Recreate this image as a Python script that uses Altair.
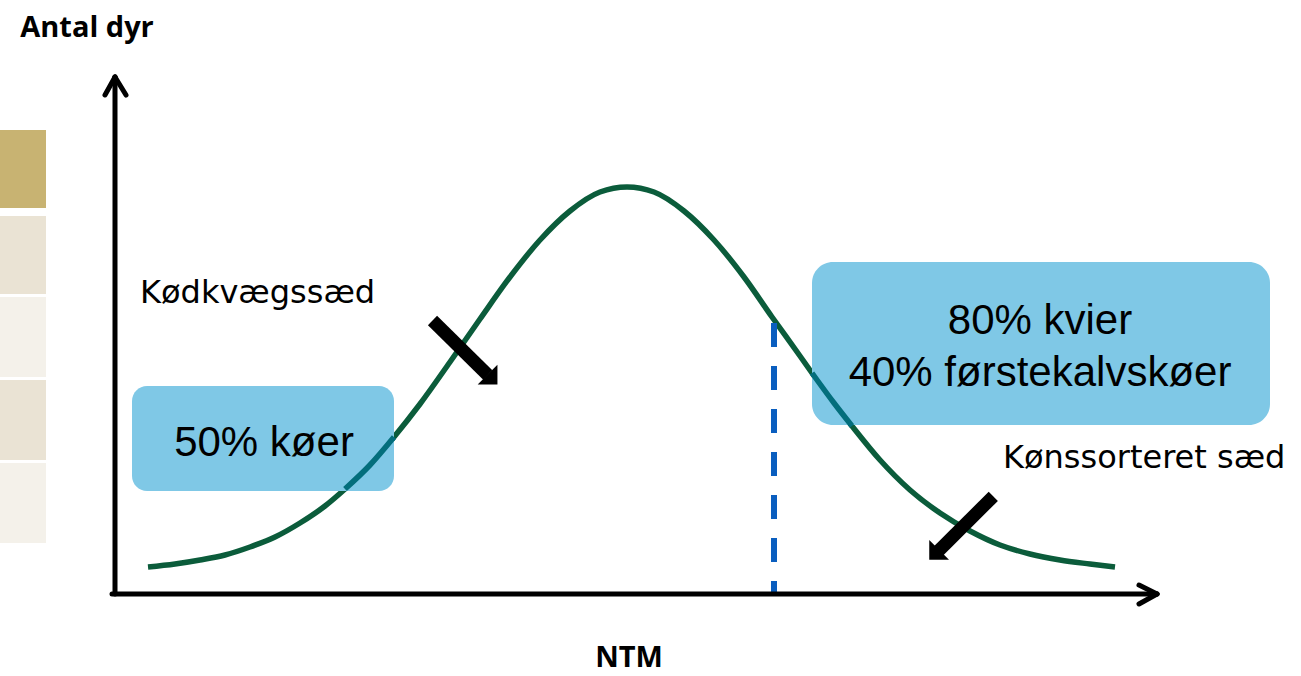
import altair as alt
import pandas as pd

W, H = 1301, 676

# Decorative tiles along the left edge
tile_top = [130, 216, 297, 380, 463]
tile_bottom = [208, 294, 377, 460, 543]
tile_color = ["#C8B372", "#EAE3D4", "#F4F1EA", "#EAE3D4", "#F4F1EA"]

# Bell curve of the herd (NTM on x, number of animals on y), frame units
curve_x = [148, 175, 200, 225, 250, 275, 300, 325, 345, 370, 394, 420, 450, 480,
           510, 540, 570, 600, 627, 654, 684, 714, 744, 772, 800, 812, 834, 852,
           880, 910, 940, 970, 1000, 1030, 1060, 1090, 1115]
curve_y = [567, 564, 560, 555, 547, 537, 523, 506, 489, 465, 437, 404, 362, 319,
           277, 240, 211, 192, 187, 192, 211, 240, 277, 317, 356, 373, 403, 426,
           460, 490, 513, 531, 545, 554, 560, 564, 567]
# part of the curve that runs behind a box
curve_part = ["", "", "", "", "", "", "", "", "left", "left", "left", "", "", "",
              "", "", "", "", "", "", "", "", "", "", "", "right", "right", "right",
              "", "", "", "", "", "", "", "", ""]

# Threshold line
cut_x = 774
cut_top = 323
cut_bottom = 592

# Info boxes
box_x0 = [132, 812]
box_x1 = [394, 1270]
box_y0 = [386, 262]
box_y1 = [491, 425]
box_radius = [15, 21]
box_lines = ["50% køer", "80% kvier", "40% førstekalvskøer"]
box_line_x = [264, 1040, 1040]
box_line_y = [456, 334, 386]

# Labels beside the curve
label_text = ["Kødkvægssæd", "Kønssorteret sæd"]
label_x = [140, 1003]
label_y = [303, 468]

# Axis titles
title_text = ["Antal dyr", "NTM"]
title_x = [87, 629]
title_y = [37, 667]

# Axis lines with chevron heads: (x, y, x2, y2)
axis_x = [115, 115, 115, 112, 1157, 1157]
axis_y = [594, 77, 77, 594, 594, 594]
axis_x2 = [115, 105, 126, 1157, 1139, 1139]
axis_y2 = [77, 95, 95, 594, 585, 604]

# Block arrows: shaft tail -> shaft end, head centre and direction
arrow_tail_x = [432.5, 993.3]
arrow_tail_y = [320.5, 496.3]
arrow_end_x = [487.8, 938.3]
arrow_end_y = [375.0, 551.2]
head_x = [492.5, 934.2]
head_y = [379.5, 554.7]
head_angle = [315, 45]

xs = alt.Scale(domain=[0, W], nice=False, zero=False)
ys = alt.Scale(domain=[0, H], nice=False, zero=False, reverse=True)


def X(f):
    return alt.X(f, type="quantitative", scale=xs, axis=None)


def Y(f):
    return alt.Y(f, type="quantitative", scale=ys, axis=None)


tiles = alt.Chart(pd.DataFrame({
    "x0": [0] * 5, "x1": [46] * 5, "y0": tile_top, "y1": tile_bottom, "c": tile_color
})).mark_rect().encode(
    x=X("x0"), x2="x1", y=Y("y0"), y2="y1",
    color=alt.Color("c:N", scale=None)
)

curve_df = pd.DataFrame({"x": curve_x, "y": curve_y, "part": curve_part,
                         "order": range(len(curve_x))})

curve = alt.Chart(curve_df).mark_line(
    color="#0B5C3B", strokeWidth=5.5, interpolate="monotone"
).encode(x=X("x"), y=Y("y"), order="order:Q")

box_a = alt.Chart(pd.DataFrame({
    "x0": box_x0[:1], "x1": box_x1[:1], "y0": box_y0[:1], "y1": box_y1[:1]
})).mark_rect(color="#7FC8E6", cornerRadius=box_radius[0]).encode(
    x=X("x0"), x2="x1", y=Y("y0"), y2="y1"
)
box_b = alt.Chart(pd.DataFrame({
    "x0": box_x0[1:], "x1": box_x1[1:], "y0": box_y0[1:], "y1": box_y1[1:]
})).mark_rect(color="#7FC8E6", cornerRadius=box_radius[1]).encode(
    x=X("x0"), x2="x1", y=Y("y0"), y2="y1"
)

curve_behind = alt.Chart(curve_df).transform_filter(
    alt.datum.part != ""
).mark_line(color="#036E7C", strokeWidth=5.5, interpolate="monotone").encode(
    x=X("x"), y=Y("y"), detail="part:N", order="order:Q"
)

cut = alt.Chart(pd.DataFrame({"x": [cut_x], "y": [cut_top], "y2": [cut_bottom]})).mark_rule(
    color="#0A5EBF", strokeWidth=6, strokeDash=[24, 19]
).encode(x=X("x"), y=Y("y"), y2="y2")

axes = alt.Chart(pd.DataFrame({
    "x": axis_x, "y": axis_y, "x2": axis_x2, "y2": axis_y2
})).mark_rule(color="black", strokeWidth=5, strokeCap="round").encode(
    x=X("x"), y=Y("y"), x2="x2", y2="y2"
)

shafts = alt.Chart(pd.DataFrame({
    "x": arrow_tail_x, "y": arrow_tail_y, "x2": arrow_end_x, "y2": arrow_end_y
})).mark_rule(color="black", strokeWidth=13, strokeCap="butt").encode(
    x=X("x"), y=Y("y"), x2="x2", y2="y2"
)

heads = alt.Chart(pd.DataFrame({
    "x": head_x, "y": head_y, "a": head_angle
})).mark_point(
    shape="M-1,-0.5L1,-0.5L0,0.5Z", filled=True, color="black", opacity=1, size=780
).encode(x=X("x"), y=Y("y"), angle=alt.Angle("a:Q", scale=None))

box_text = alt.Chart(pd.DataFrame({
    "t": box_lines, "x": box_line_x, "y": box_line_y
})).mark_text(
    font="Liberation Sans", fontSize=42, align="center", baseline="alphabetic", color="black"
).encode(x=X("x"), y=Y("y"), text="t:N")

labels = alt.Chart(pd.DataFrame({
    "t": label_text, "x": label_x, "y": label_y
})).mark_text(
    font="DejaVu Sans", fontSize=32, align="left", baseline="alphabetic", color="black"
).encode(x=X("x"), y=Y("y"), text="t:N")

titles = alt.Chart(pd.DataFrame({
    "t": title_text, "x": title_x, "y": title_y
})).mark_text(
    font="Open Sans", fontSize=29, fontWeight="bold", align="center",
    baseline="alphabetic", color="black"
).encode(x=X("x"), y=Y("y"), text="t:N")

chart = alt.layer(
    tiles, curve, box_a, box_b, curve_behind, cut, axes, shafts, heads,
    box_text, labels, titles
).properties(
    width=W, height=H, padding=0, autosize="none", background="white"
).configure_view(stroke=None)

chart.save("out.html", embed_options={"renderer": "svg", "actions": False})
